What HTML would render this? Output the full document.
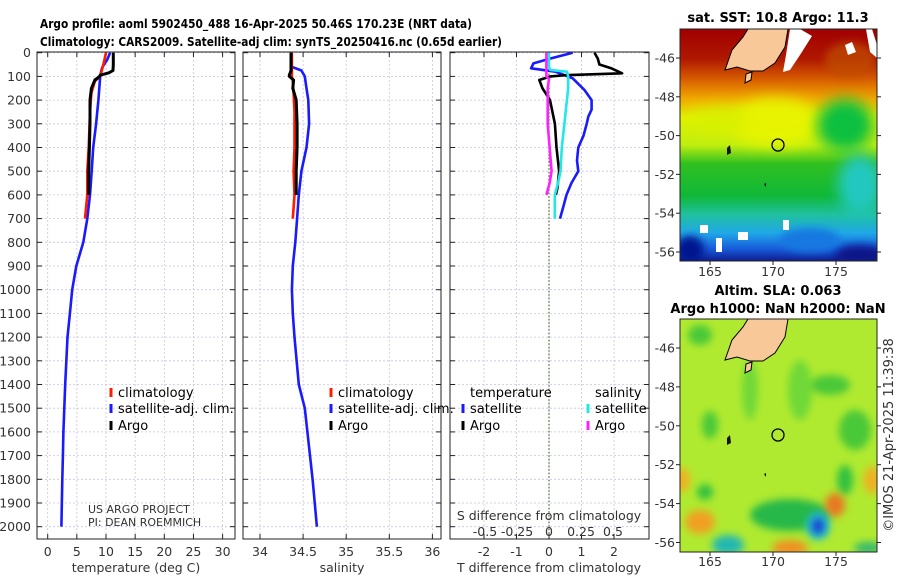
<!DOCTYPE html>
<html><head><meta charset="utf-8"><style>
html,body{margin:0;padding:0;background:#fff;}
svg{display:block;font-family:"DejaVu Sans","Liberation Sans",sans-serif;}
.tk{font-size:12.5px;fill:#333;}
.tt{font-size:13px;font-weight:bold;fill:#000;}
.lg{font-size:13px;fill:#000;}
</style></head><body>
<svg id="fig" width="900" height="580" viewBox="0 0 900 580">
<defs>
<linearGradient id="sstg" x1="0" y1="0" x2="0" y2="1">
<stop offset="0" stop-color="#a00000"/><stop offset="0.13" stop-color="#b01800"/>
<stop offset="0.22" stop-color="#d86000"/><stop offset="0.3" stop-color="#f0a800"/>
<stop offset="0.38" stop-color="#e0f000"/><stop offset="0.5" stop-color="#c0ee10"/>
<stop offset="0.58" stop-color="#30c020"/><stop offset="0.72" stop-color="#10b838"/>
<stop offset="0.8" stop-color="#20c0a0"/><stop offset="0.88" stop-color="#20a8e8"/>
<stop offset="0.95" stop-color="#1858d8"/><stop offset="1" stop-color="#101c90"/>
</linearGradient>
<filter id="bl" x="-50%" y="-50%" width="200%" height="200%"><feGaussianBlur stdDeviation="7"/></filter>
<filter id="bl2" x="-50%" y="-50%" width="200%" height="200%"><feGaussianBlur stdDeviation="4"/></filter>
<clipPath id="cm1"><rect x="680" y="29" width="197" height="232"/></clipPath>
<clipPath id="cm2"><rect x="680" y="319" width="197" height="233"/></clipPath>
</defs>

<text class="tt" x="40" y="28" textLength="432" lengthAdjust="spacingAndGlyphs" style="font-size:12.5px">Argo profile: aoml 5902450_488 16-Apr-2025 50.46S 170.23E (NRT data)</text>
<text class="tt" x="40" y="46" textLength="462" lengthAdjust="spacingAndGlyphs" style="font-size:12.5px">Climatology: CARS2009. Satellite-adj clim: synTS_20250416.nc (0.65d earlier)</text>

<g id="panels"></g>

<!-- map 1: SST -->
<g>
<text class="tt" x="778" y="22" text-anchor="middle">sat. SST: 10.8 Argo: 11.3</text>
<g clip-path="url(#cm1)">
<rect x="680" y="29" width="197" height="232" fill="url(#sstg)"/>
<ellipse cx="775" cy="122" rx="45" ry="24" fill="#e8f400" filter="url(#bl)" opacity="0.95"/>
<ellipse cx="720" cy="120" rx="30" ry="14" fill="#d8f000" filter="url(#bl)" opacity="0.8"/>
<ellipse cx="845" cy="125" rx="28" ry="26" fill="#10c040" filter="url(#bl)"/>
<ellipse cx="860" cy="185" rx="22" ry="30" fill="#20c8c0" filter="url(#bl)"/>
<ellipse cx="690" cy="250" rx="14" ry="14" fill="#001890" filter="url(#bl2)"/>
<ellipse cx="860" cy="255" rx="25" ry="10" fill="#081888" filter="url(#bl2)"/>
<ellipse cx="810" cy="240" rx="30" ry="12" fill="#1878e0" filter="url(#bl2)"/>
<ellipse cx="850" cy="60" rx="25" ry="18" fill="#c05000" filter="url(#bl2)" opacity="0.7"/>
<rect x="700" y="225" width="8" height="8" fill="#fff"/><rect x="716" y="238" width="6" height="14" fill="#fff"/>
<rect x="738" y="232" width="10" height="8" fill="#fff"/><rect x="783" y="220" width="6" height="10" fill="#fff"/>
<polygon points="790,29 800,29 812,36 800,55 790,70 783,72 786,55" fill="#fff"/>
<polygon points="866,29 872,29 877,45 877,58 870,52" fill="#fff"/>
<polygon points="845,45 852,42 856,52 848,55" fill="#fff"/>
<g><polygon points="748,29 788,29 785,47 775,63 763,71 750,71 737,67 725,70 732,50 743,37" fill="#f8c898" stroke="#000" stroke-width="1"/>
<polygon points="746,74 752,72 751,80 745,83" fill="#f8c898" stroke="#000" stroke-width="1"/></g>
<polygon points="727,148 730,145 731,153 727,155" fill="#111"/>
<polygon points="764,184 766,183 766,187" fill="#111"/>
<circle cx="778" cy="145" r="6" fill="none" stroke="#000" stroke-width="1.3"/>
</g>
<rect x="680" y="29" width="197" height="232" fill="none" stroke="#222" stroke-width="1"/>
</g>

<!-- map 2: SLA -->
<g>
<text class="tt" x="778" y="295" text-anchor="middle">Altim. SLA: 0.063</text>
<text class="tt" x="778" y="313" text-anchor="middle">Argo h1000: NaN h2000: NaN</text>
<g clip-path="url(#cm2)">
<rect x="680" y="319" width="197" height="233" fill="#b0ea30"/>
<ellipse cx="700" cy="335" rx="12" ry="10" fill="#48c838" filter="url(#bl2)"/>
<ellipse cx="710" cy="425" rx="8" ry="14" fill="#48c838" filter="url(#bl2)"/>
<ellipse cx="750" cy="390" rx="8" ry="30" fill="#70d838" filter="url(#bl2)"/>
<ellipse cx="800" cy="390" rx="12" ry="30" fill="#70d838" filter="url(#bl2)"/>
<ellipse cx="830" cy="385" rx="20" ry="10" fill="#48c838" filter="url(#bl2)"/>
<ellipse cx="855" cy="430" rx="16" ry="20" fill="#48c838" filter="url(#bl2)"/>
<ellipse cx="845" cy="480" rx="8" ry="15" fill="#30c040" filter="url(#bl2)"/>
<ellipse cx="705" cy="492" rx="8" ry="8" fill="#30c040" filter="url(#bl2)"/>
<ellipse cx="790" cy="515" rx="40" ry="16" fill="#28b848" filter="url(#bl2)"/>
<ellipse cx="700" cy="522" rx="15" ry="12" fill="#f0a020" filter="url(#bl2)"/>
<ellipse cx="682" cy="480" rx="8" ry="12" fill="#f0b020" filter="url(#bl2)"/>
<ellipse cx="872" cy="480" rx="8" ry="14" fill="#f0b020" filter="url(#bl2)"/>
<ellipse cx="835" cy="505" rx="10" ry="12" fill="#e87820" filter="url(#bl2)"/>
<ellipse cx="790" cy="548" rx="18" ry="8" fill="#f09020" filter="url(#bl2)"/>
<ellipse cx="728" cy="545" rx="16" ry="10" fill="#20b8b0" filter="url(#bl2)"/>
<ellipse cx="818" cy="526" rx="12" ry="14" fill="#20c0d0" filter="url(#bl2)"/>
<ellipse cx="818" cy="526" rx="6" ry="8" fill="#1840d0" filter="url(#bl2)"/>
<ellipse cx="868" cy="548" rx="14" ry="6" fill="#30b870" filter="url(#bl2)"/>
<g transform="translate(0,290)"><polygon points="748,29 788,29 785,47 775,63 763,71 750,71 737,67 725,70 732,50 743,37" fill="#f8c898" stroke="#000" stroke-width="1"/>
<polygon points="746,74 752,72 751,80 745,83" fill="#f8c898" stroke="#000" stroke-width="1"/>
<polygon points="727,148 730,145 731,153 727,155" fill="#111"/><polygon points="764,184 766,183 766,187" fill="#111"/></g>
<circle cx="778" cy="435" r="6" fill="none" stroke="#000" stroke-width="1.3"/>
</g>
<rect x="680" y="319" width="197" height="233" fill="none" stroke="#222" stroke-width="1"/>
</g>
<text x="893" y="435" transform="rotate(-90 893 435)" text-anchor="middle" style="font-size:13px;fill:#333">©IMOS 21-Apr-2025 11:39:38</text>
<g id="mapticks"></g>
</svg>
<script>
// ---- profile data (depth in m) ----
const depthArgo = [0, 25, 50, 75, 85, 95, 100, 115, 150, 200, 300, 400, 500, 600];
const tempArgo  = [11.25, 11.25, 11.25, 11.2, 10.5, 9.0, 8.9, 8.1, 7.5, 7.26, 7.26, 7.15, 7.03, 7.03];
const salArgo   = [34.36, 34.36, 34.36, 34.36, 34.35, 34.34, 34.34, 34.39, 34.38, 34.42, 34.43, 34.43, 34.42, 34.42];
const depthClim = [0, 50, 100, 120, 170, 250, 400, 500, 600, 700];
const tempClim  = [10.0, 9.55, 9.0, 8.1, 7.5, 7.26, 7.03, 6.8, 6.8, 6.4];
const salClim   = [34.37, 34.37, 34.37, 34.38, 34.39, 34.40, 34.40, 34.39, 34.40, 34.38];
const depthSat  = [0, 30, 60, 75, 100, 150, 200, 300, 400, 500, 600, 700, 800, 900, 1000, 1100, 1200, 1400, 1500, 1600, 1700, 1800, 2000];
const tempSat   = [10.7, 10.2, 9.4, 9.2, 9.0, 8.85, 8.7, 8.3, 7.8, 7.55, 7.26, 6.8, 6.1, 4.9, 4.2, 3.8, 3.4, 3.0, 2.85, 2.7, 2.6, 2.5, 2.35];
const salSat    = [34.36, 34.36, 34.37, 34.48, 34.52, 34.54, 34.56, 34.57, 34.54, 34.48, 34.45, 34.43, 34.41, 34.38, 34.37, 34.38, 34.40, 34.45, 34.52, 34.55, 34.58, 34.61, 34.66];
// differences from climatology
const depthTdiffArgo = [0, 25, 50, 65, 87, 95, 100, 115, 150, 200, 300, 400, 500, 570, 600];
const tdiffArgo      = [1.4, 1.5, 1.55, 1.9, 2.25, 0.5, 0.05, -0.3, -0.2, 0.03, 0.18, 0.23, 0.31, 0.26, 0.21];
const depthTdiffSat  = [0, 25, 45, 66, 80, 108, 157, 200, 240, 270, 300, 350, 400, 455, 500, 550, 600, 650, 700];
const tdiffSat       = [0.73, 0.03, -0.48, -0.55, 0.2, 0.73, 1.09, 1.31, 1.31, 1.21, 1.16, 1.06, 0.9, 0.86, 0.9, 0.69, 0.54, 0.44, 0.34];
const depthSdiffSat  = [0, 60, 73, 80, 100, 150, 200, 300, 400, 500, 550, 600, 700];
const sdiffSat       = [0.0, 0.0, 0.01, 0.14, 0.15, 0.15, 0.14, 0.12, 0.10, 0.09, 0.07, 0.045, 0.045];
const depthSdiffArgo = [0, 100, 110, 150, 200, 300, 400, 500, 550, 600];
const sdiffArgo      = [-0.02, -0.02, 0.0, -0.01, -0.01, -0.01, 0.005, 0.02, 0.005, -0.02];
// tick labels
const depthTicks = [0,100,200,300,400,500,600,700,800,900,1000,1100,1200,1300,1400,1500,1600,1700,1800,1900,2000];
const tempTicks = [0,5,10,15,20,25,30];
const salTicks = [34,34.5,35,35.5,36];
const salTickLabels = ["34","34.5","35","35.5","36"];
const tdTicks = [-2,-1,0,1,2];
const sdTicks = [-0.5,-0.25,0,0.25,0.5];
const sdTickLabels = ["-0.5","-0.25","0","0.25","0.5"];
const latTicks = [-46,-48,-50,-52,-54,-56];
const lonTicks = [165,170,175];

const NS = "http://www.w3.org/2000/svg";
const root = document.getElementById('panels');
function el(tag, attrs, parent){const e=document.createElementNS(NS,tag);for(const k in attrs)e.setAttribute(k,attrs[k]);(parent||root).appendChild(e);return e;}
const Y0=52.7, YTOP=52, YBOT=539, PY=0.2370;
const yD = d => Y0 + d*PY;
const xT = t => 47.7 + t*5.83;
const xS = s => 260 + (s-34)*86.2;
const xTD = t => 549 + t*32.5;
const xSD = s => 549 + s*128;
const panels=[{x0:37,x1:235,name:'temperature-panel'},{x0:243,x1:441,name:'salinity-panel'},{x0:450,x1:649,name:'difference-panel'}];

function line(xs, ds, fx, color, name, w){
  const pts = xs.map((v,i)=>fx(v).toFixed(1)+','+yD(ds[i]).toFixed(1)).join(' ');
  const p = el('polyline',{points:pts,fill:'none',stroke:color,'stroke-width':w||2.6,'stroke-linejoin':'round'});
  
  
}
function txt(x,y,s,cls,anchor,name){const t=el('text',{x:x,y:y,class:cls,'text-anchor':anchor||'start'});t.textContent=s;
  
  
  return t;}

panels.forEach((p,pi)=>{
  const g = el('rect',{x:p.x0,y:YTOP,width:p.x1-p.x0,height:YBOT-YTOP,fill:'#fff'});
  
  
  depthTicks.forEach(d=>{
    el('line',{x1:p.x0,x2:p.x1,y1:yD(d),y2:yD(d),stroke:'#c8c4e4','stroke-width':0.8,'stroke-dasharray':'2,2'});
    el('line',{x1:p.x0,x2:p.x0+5,y1:yD(d),y2:yD(d),stroke:'#222','stroke-width':1});
    el('line',{x1:p.x1-5,x2:p.x1,y1:yD(d),y2:yD(d),stroke:'#222','stroke-width':1});
  });
  let xs, fx;
  if(pi===0){xs=tempTicks;fx=xT;} else if(pi===1){xs=salTicks;fx=xS;} else {xs=tdTicks;fx=xTD;}
  xs.forEach((v,i)=>{
    el('line',{x1:fx(v),x2:fx(v),y1:YTOP,y2:YBOT,stroke:'#c8c4e4','stroke-width':0.8,'stroke-dasharray':'2,2'});
    el('line',{x1:fx(v),x2:fx(v),y1:YBOT-5,y2:YBOT,stroke:'#222'});
    el('line',{x1:fx(v),x2:fx(v),y1:YTOP,y2:YTOP+5,stroke:'#222'});
    const lab = pi===1?salTickLabels[i]:String(v);
    txt(fx(v),556,lab,'tk','middle','x-tick-label');
  });
});
depthTicks.forEach(d=>txt(31,yD(d)+4.5,String(d),'tk','end','y-tick-label'));
txt(136,572,'temperature (deg C)','tk','middle','x-axis-title-temperature');
txt(342,572,'salinity','tk','middle','x-axis-title-salinity');
txt(549,572,'T difference from climatology','tk','middle','x-axis-title-difference');

// zero line
const z = el('line',{x1:xTD(0),x2:xTD(0),y1:yD(0),y2:YBOT,stroke:'#4a6a2a','stroke-width':1.2,'stroke-dasharray':'1.5,2'});



// series
line(tempSat, depthSat, xT, '#1a1aff', 'temp-satellite-line');
line(tempClim, depthClim, xT, '#ff1a00', 'temp-climatology-line');
line(tempArgo, depthArgo, xT, '#000', 'temp-argo-line', 3);
line(salSat, depthSat, xS, '#1a1aff', 'sal-satellite-line');
line(salClim, depthClim, xS, '#ff1a00', 'sal-climatology-line');
line(salArgo, depthArgo, xS, '#000', 'sal-argo-line', 3);
line(tdiffSat, depthTdiffSat, xTD, '#1a1aff', 'tdiff-satellite-line');
line(tdiffArgo, depthTdiffArgo, xTD, '#000', 'tdiff-argo-line');
line(sdiffSat, depthSdiffSat, xSD, '#22e8e8', 'sdiff-satellite-line');
line(sdiffArgo, depthSdiffArgo, xSD, '#ff20ff', 'sdiff-argo-line');

// S axis inside diff panel
txt(549,520,'S difference from climatology','tk','middle','s-axis-title');
sdTicks.forEach((v,i)=>txt(xSD(v),536,sdTickLabels[i],'tk','middle','s-tick-label'));

// panel borders
panels.forEach(p=>el('rect',{x:p.x0,y:YTOP,width:p.x1-p.x0,height:YBOT-YTOP,fill:'none',stroke:'#222','stroke-width':1}));

// legends
function leg(x,y,color,label,name){
  const m=el('line',{x1:x,x2:x,y1:y-9,y2:y,stroke:color,'stroke-width':3});
  
  
  txt(x+7,y,label,'lg','start',name+'-label');
}
leg(111,397,'#ff1a00','climatology','legend-climatology');
leg(111,413,'#1a1aff','satellite-adj. clim.','legend-satellite');
leg(111,430,'#000','Argo','legend-argo');
leg(331,397,'#ff1a00','climatology','legend2-climatology');
leg(331,413,'#1a1aff','satellite-adj. clim.','legend2-satellite');
leg(331,430,'#000','Argo','legend2-argo');
txt(470,397,'temperature','lg','start','legend-temperature-heading');
leg(463,413,'#1a1aff','satellite','legend-tdiff-satellite');
leg(463,430,'#000','Argo','legend-tdiff-argo');
txt(595,397,'salinity','lg','start','legend-salinity-heading');
leg(588,413,'#22e8e8','satellite','legend-sdiff-satellite');
leg(588,430,'#ff20ff','Argo','legend-sdiff-argo');
const c1=txt(88,513,'US ARGO PROJECT','tk','start','credit-project'); c1.style.fontSize='11px';
const c2=txt(88,526,'PI: DEAN ROEMMICH','tk','start','credit-pi'); c2.style.fontSize='11px';

// map ticks
const mt=document.getElementById('mapticks');
const maps=[{top:29,bot:261,latY:lat=>58+(-46-lat)*19.4,lab:276},{top:319,bot:552,latY:lat=>348+(-46-lat)*19.45,lab:566}];
const lonX = lon => 773 + (lon-170)*12.6;
maps.forEach(m=>{
  latTicks.forEach(la=>{
    const y=m.latY(la);
    el('line',{x1:676,x2:680,y1:y,y2:y,stroke:'#222'},mt);
    el('line',{x1:877,x2:881,y1:y,y2:y,stroke:'#222'},mt);
    const t=el('text',{x:675,y:y+4.5,class:'tk','text-anchor':'end'},mt);t.textContent=String(la);
    
    
  });
  lonTicks.forEach(lo=>{
    const x=lonX(lo);
    el('line',{x1:x,x2:x,y1:m.bot,y2:m.bot+4,stroke:'#222'},mt);
    const t=el('text',{x:x,y:m.lab,class:'tk','text-anchor':'middle'},mt);t.textContent=String(lo);
    
    
  });
});
</script>
</body></html>
